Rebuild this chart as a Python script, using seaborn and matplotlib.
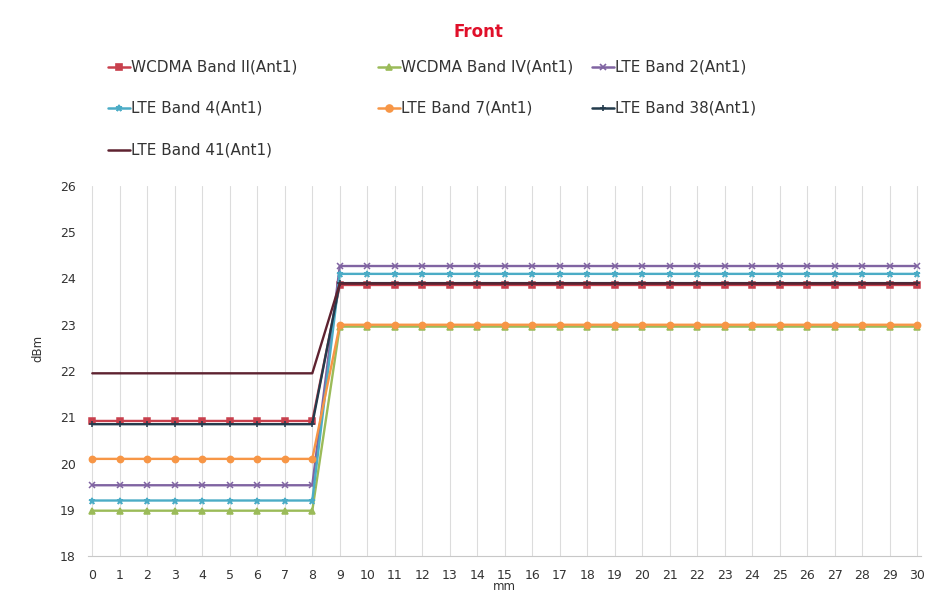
import matplotlib
matplotlib.use("Agg")
import matplotlib.pyplot as plt
from matplotlib.lines import Line2D
import pandas as pd
import seaborn as sns

# Distance from the phantom (mm) and measured power (dBm) per band
mm = list(range(31))

wcdma_band_ii = [20.92, 20.92, 20.92, 20.92, 20.92, 20.92, 20.92, 20.92, 20.92,
                 23.86, 23.86, 23.86, 23.86, 23.86, 23.86, 23.86, 23.86, 23.86,
                 23.86, 23.86, 23.86, 23.86, 23.86, 23.86, 23.86, 23.86, 23.86,
                 23.86, 23.86, 23.86, 23.86]
wcdma_band_iv = [18.98, 18.98, 18.98, 18.98, 18.98, 18.98, 18.98, 18.98, 18.98,
                 22.96, 22.96, 22.96, 22.96, 22.96, 22.96, 22.96, 22.96, 22.96,
                 22.96, 22.96, 22.96, 22.96, 22.96, 22.96, 22.96, 22.96, 22.96,
                 22.96, 22.96, 22.96, 22.96]
lte_band_2 = [19.53, 19.53, 19.53, 19.53, 19.53, 19.53, 19.53, 19.53, 19.53,
              24.27, 24.27, 24.27, 24.27, 24.27, 24.27, 24.27, 24.27, 24.27,
              24.27, 24.27, 24.27, 24.27, 24.27, 24.27, 24.27, 24.27, 24.27,
              24.27, 24.27, 24.27, 24.27]
lte_band_4 = [19.2, 19.2, 19.2, 19.2, 19.2, 19.2, 19.2, 19.2, 19.2,
              24.1, 24.1, 24.1, 24.1, 24.1, 24.1, 24.1, 24.1, 24.1,
              24.1, 24.1, 24.1, 24.1, 24.1, 24.1, 24.1, 24.1, 24.1,
              24.1, 24.1, 24.1, 24.1]
lte_band_7 = [20.1, 20.1, 20.1, 20.1, 20.1, 20.1, 20.1, 20.1, 20.1,
              23.0, 23.0, 23.0, 23.0, 23.0, 23.0, 23.0, 23.0, 23.0,
              23.0, 23.0, 23.0, 23.0, 23.0, 23.0, 23.0, 23.0, 23.0,
              23.0, 23.0, 23.0, 23.0]
lte_band_38 = [20.85, 20.85, 20.85, 20.85, 20.85, 20.85, 20.85, 20.85, 20.85,
               23.9, 23.9, 23.9, 23.9, 23.9, 23.9, 23.9, 23.9, 23.9,
               23.9, 23.9, 23.9, 23.9, 23.9, 23.9, 23.9, 23.9, 23.9,
               23.9, 23.9, 23.9, 23.9]
lte_band_41 = [21.95, 21.95, 21.95, 21.95, 21.95, 21.95, 21.95, 21.95, 21.95,
               23.89, 23.89, 23.89, 23.89, 23.89, 23.89, 23.89, 23.89, 23.89,
               23.89, 23.89, 23.89, 23.89, 23.89, 23.89, 23.89, 23.89, 23.89,
               23.89, 23.89, 23.89, 23.89]

band_names = ["WCDMA Band II(Ant1)", "WCDMA Band IV(Ant1)", "LTE Band 2(Ant1)",
              "LTE Band 4(Ant1)", "LTE Band 7(Ant1)", "LTE Band 38(Ant1)",
              "LTE Band 41(Ant1)"]
band_values = [wcdma_band_ii, wcdma_band_iv, lte_band_2, lte_band_4,
               lte_band_7, lte_band_38, lte_band_41]
band_colors = ["#C8404D", "#9BBB59", "#8064A2", "#4BACC6", "#F79646",
               "#233B4C", "#5E2230"]
band_markers = ["s", "^", "x", "*", "o", "+", ""]
y_ticks = [18, 19, 20, 21, 22, 23, 24, 25, 26]

df = pd.DataFrame({
    "mm": mm * len(band_names),
    "dBm": [v for vals in band_values for v in vals],
    "band": [n for n in band_names for _ in mm],
})

sns.set_theme(style="white")
plt.rcParams["font.family"] = ["DejaVu Sans"]

fig = plt.figure(figsize=(9.4, 6.09), dpi=100)
ax = fig.add_axes([0.0938, 0.0870, 0.8864, 0.6076])

for name, color, marker in zip(band_names, band_colors, band_markers):
    sub = df[df["band"] == name]
    sns.lineplot(data=sub, x="mm", y="dBm", ax=ax, color=color,
                 marker=marker, markersize=4.5, markeredgecolor=color,
                 markeredgewidth=1.1, linewidth=1.7, legend=False)

ax.set_xlim(-0.15, 30.15)
ax.set_ylim(18, 26)
ax.set_xticks(mm)
ax.set_yticks(y_ticks)
ax.tick_params(axis="both", length=0, labelsize=9, colors="#333333")
ax.tick_params(axis="x", pad=9)
ax.tick_params(axis="y", pad=9)
ax.grid(axis="x", color="#DCDCDC", linewidth=0.8)
ax.grid(axis="y", visible=False)
for side in ("top", "right", "left"):
    ax.spines[side].set_visible(False)
ax.spines["bottom"].set_color("#C8C8C8")
ax.spines["bottom"].set_linewidth(0.8)

ax.set_xlabel("mm", fontsize=8.5, color="#333333", labelpad=-1)
ax.set_ylabel("dBm", fontsize=8.5, color="#333333")
ax.yaxis.set_label_coords(-0.053, 0.56)

fig.text(0.5085, 0.9475, "Front", color="#E0102A", fontsize=12,
         fontweight="bold", ha="center", va="center")

# Legend laid out in three columns, row by row
col_x = [0.1149, 0.4021, 0.6298]
row_y = [0.890, 0.8227, 0.7537]
handle_w = 0.0234
for i, (name, color, marker) in enumerate(zip(band_names, band_colors, band_markers)):
    x0 = col_x[i % 3]
    y0 = row_y[i // 3]
    fig.add_artist(Line2D([x0, x0 + handle_w], [y0, y0], color=color,
                          linewidth=1.8, transform=fig.transFigure))
    if marker:
        fig.add_artist(Line2D([x0 + handle_w / 2], [y0], color=color,
                              marker=marker, markersize=5,
                              markeredgecolor=color, markeredgewidth=1.2,
                              transform=fig.transFigure))
    fig.text(x0 + handle_w + 0.001, y0, name, fontsize=11, color="#333333",
             ha="left", va="center")

fig.savefig("out.png", dpi=100, facecolor="white")
